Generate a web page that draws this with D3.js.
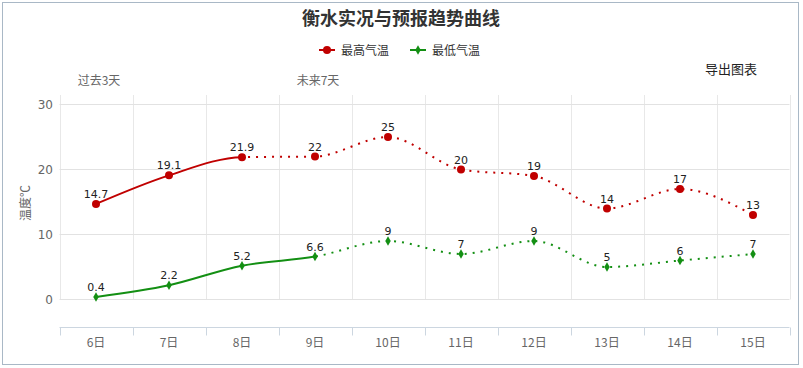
<!DOCTYPE html>
<html><head><meta charset="utf-8">
<script src="https://cdn.jsdelivr.net/npm/d3@7/dist/d3.min.js"></script>
<style>
html,body{margin:0;padding:0;background:#fff;}
svg{display:block;font-family:"Noto Sans CJK SC","DejaVu Sans",sans-serif;}
</style></head><body>
<svg id="c" width="803" height="368"></svg>
<script>
const categories = ["6日","7日","8日","9日","10日","11日","12日","13日","14日","15日"];
const highTemps = [14.7,19.1,21.9,22,25,20,19,14,17,13];
const lowTemps = [0.4,2.2,5.2,6.6,9,7,9,5,6,7];
const highLabels = ["14.7","19.1","21.9","22","25","20","19","14","17","13"];
const lowLabels = ["0.4","2.2","5.2","6.6","9","7","9","5","6","7"];
const yTicks = [0,10,20,30];
const seriesNames = ["最高气温","最低气温"];
const highSolidUntil = "8日";
const lowSolidUntil = "9日";

const svg = d3.select("#c");
const W = 803, H = 368;
const red = "#c00000", green = "#138f13";

svg.append("rect").attr("x",2.5).attr("y",2.5).attr("width",796).attr("height",362)
  .attr("fill","#fff").attr("stroke","#a9b8c6").attr("stroke-width",1);

const plotLeft = 59.5, plotRight = 789.5, plotTop = 95, axisY = 327.5;
const x = d3.scaleBand().domain(categories).range([plotLeft, plotRight]);
const y = d3.scaleLinear().domain([0,30]).range([299.5,104.5]);
const cx = c => x(c) + x.bandwidth()/2;

// vertical grid lines at band boundaries
const bounds = categories.map(c => x(c)).concat([plotRight]);
svg.append("g").selectAll("line").data(bounds).join("line")
  .attr("x1",d=>Math.round(d)+0.5).attr("x2",d=>Math.round(d)+0.5)
  .attr("y1",plotTop).attr("y2",y(0))
  .attr("stroke","#e8e8e8").attr("stroke-width",1);

// horizontal grid
svg.append("g").selectAll("line").data(yTicks).join("line")
  .attr("x1",plotLeft).attr("x2",plotRight)
  .attr("y1",d=>y(d)).attr("y2",d=>y(d))
  .attr("stroke","#e2e2e2").attr("stroke-width",1);

// y labels
svg.append("g").selectAll("text").data(yTicks).join("text")
  .attr("x",53).attr("y",d=>y(d)+4).attr("text-anchor","end")
  .attr("font-size",12).attr("fill","#666").attr("font-family","DejaVu Sans, sans-serif")
  .text(d=>d);

// y title
svg.append("text").attr("transform","translate(30,203) rotate(-90)")
  .attr("text-anchor","middle").attr("font-size",12).attr("fill","#666").text("温度℃");

// x axis
svg.append("line").attr("x1",plotLeft).attr("x2",plotRight).attr("y1",axisY).attr("y2",axisY)
  .attr("stroke","#ccd6e0").attr("stroke-width",1);
svg.append("g").selectAll("line").data(bounds).join("line")
  .attr("x1",d=>Math.round(d)+0.5).attr("x2",d=>Math.round(d)+0.5)
  .attr("y1",axisY).attr("y2",axisY+8)
  .attr("stroke","#ccd6e0").attr("stroke-width",1);
svg.append("g").selectAll("text").data(categories).join("text")
  .attr("x",d=>cx(d)).attr("y",347).attr("text-anchor","middle")
  .attr("font-size",12).attr("fill","#666").text(d=>d);

// top labels
svg.append("text").attr("x",cx("6日")+3).attr("y",85).attr("text-anchor","middle")
  .attr("font-size",12).attr("fill","#666").text("过去3天");
svg.append("text").attr("x",cx("9日")+3).attr("y",85).attr("text-anchor","middle")
  .attr("font-size",12).attr("fill","#666").text("未来7天");

// title
svg.append("text").attr("x",401).attr("y",25).attr("text-anchor","middle")
  .attr("font-size",18).attr("font-weight","bold").attr("fill","#333").text("衡水实况与预报趋势曲线");

// export
svg.append("text").attr("x",705).attr("y",74).attr("font-size",13).attr("fill","#222").text("导出图表");

// clips
const defs = svg.append("defs");
function clip(id, x0, x1){
  defs.append("clipPath").attr("id",id).append("rect")
    .attr("x",x0).attr("y",0).attr("width",x1-x0).attr("height",H);
}
clip("hs",0,cx(highSolidUntil)); clip("hd",cx(highSolidUntil),W);
clip("ls",0,cx(lowSolidUntil)); clip("ld",cx(lowSolidUntil),W);

const line = d3.line().x((d,i)=>cx(categories[i])).y(d=>y(d)).curve(d3.curveMonotoneX);

function drawSeries(vals, color, solidClip, dotClip){
  svg.append("path").attr("d",line(vals)).attr("fill","none").attr("stroke",color)
    .attr("stroke-width",2).attr("clip-path",`url(#${solidClip})`);
  svg.append("path").attr("d",line(vals)).attr("fill","none").attr("stroke",color)
    .attr("stroke-width",2).attr("stroke-dasharray","2,6").attr("clip-path",`url(#${dotClip})`);
}
drawSeries(highTemps, red, "hs","hd");
drawSeries(lowTemps, green, "ls","ld");

// markers
svg.append("g").selectAll("circle").data(highTemps).join("circle")
  .attr("cx",(d,i)=>cx(categories[i])).attr("cy",d=>y(d)).attr("r",4).attr("fill",red);
const diamond = d3.symbol().type(d3.symbolDiamond).size(26);
svg.append("g").selectAll("path").data(lowTemps).join("path")
  .attr("transform",(d,i)=>`translate(${cx(categories[i])},${y(d)})`)
  .attr("d",diamond).attr("fill",green);

// data labels
function labels(vals, texts){
  svg.append("g").selectAll("text").data(vals).join("text")
    .attr("x",(d,i)=>cx(categories[i])).attr("y",d=>y(d)-6).attr("text-anchor","middle")
    .attr("font-size",11).attr("fill","#222").attr("font-family","DejaVu Sans, sans-serif")
    .text((d,i)=>texts[i]);
}
labels(highTemps, highLabels);
labels(lowTemps, lowLabels);

// legend
const lg = svg.append("g");
lg.append("line").attr("x1",319).attr("x2",335).attr("y1",50).attr("y2",50).attr("stroke",red).attr("stroke-width",2);
lg.append("circle").attr("cx",327).attr("cy",50).attr("r",4).attr("fill",red);
lg.append("text").attr("x",341).attr("y",54.5).attr("font-size",12).attr("fill","#333").text(seriesNames[0]);
lg.append("line").attr("x1",410).attr("x2",426).attr("y1",50).attr("y2",50).attr("stroke",green).attr("stroke-width",2);
lg.append("path").attr("transform","translate(418,50)").attr("d",diamond).attr("fill",green);
lg.append("text").attr("x",432).attr("y",54.5).attr("font-size",12).attr("fill","#333").text(seriesNames[1]);
</script>
</body></html>
